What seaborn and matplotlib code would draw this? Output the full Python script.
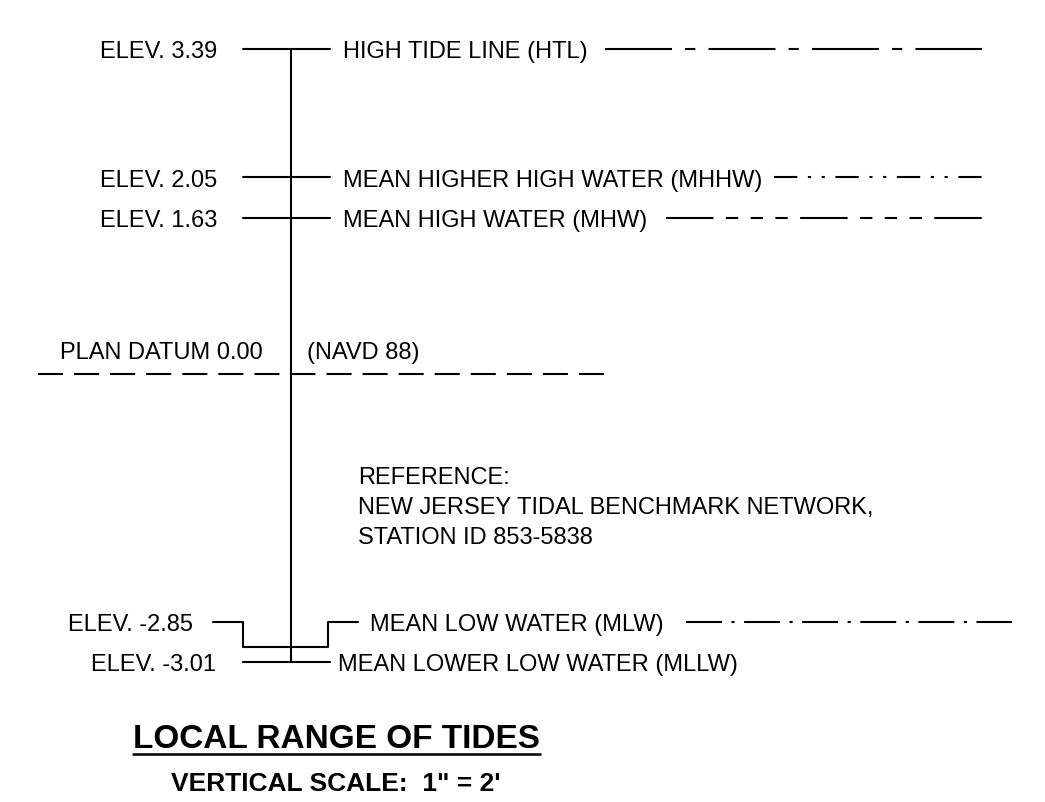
import matplotlib
matplotlib.use("Agg")
import matplotlib.pyplot as plt
import seaborn as sns
import pandas as pd
from matplotlib import transforms

sns.set_theme(style="white")
plt.rcParams["font.family"] = ["Liberation Sans", "DejaVu Sans"]
plt.rcParams["text.color"] = "black"
plt.rcParams["lines.scale_dashes"] = False

# ---------------- data ----------------
tide_names = ["HIGH TIDE LINE (HTL)", "MEAN HIGHER HIGH WATER (MHHW)",
              "MEAN HIGH WATER (MHW)", "MEAN LOW WATER (MLW)",
              "MEAN LOWER LOW WATER (MLLW)"]
tide_elev = [3.39, 2.05, 1.63, -2.85, -3.01]
elev_labels = ["ELEV. 3.39", "ELEV. 2.05", "ELEV. 1.63", "ELEV. -2.85", "ELEV. -3.01"]
datum_elev = 0.00
datum_label = "PLAN DATUM 0.00"
datum_name = "(NAVD 88)"
reference_lines = ["REFERENCE:", "NEW JERSEY TIDAL BENCHMARK NETWORK,", "STATION ID 853-5838"]
title = "LOCAL RANGE OF TIDES"
subtitle = "VERTICAL SCALE:  1\" = 2'"

# ---------------- layout ----------------
W, H, DPI = 1045, 803, 100
fig = plt.figure(figsize=(W / DPI, H / DPI), dpi=DPI)
ax = fig.add_axes([0, 0, 1, 1])
PXFT = 95.78
top_e = 3.39 + 50 / PXFT
ax.set_xlim(0, W)
ax.set_ylim(top_e - H / PXFT, top_e)
ax.axis("off")

LW = 1.5
FS = 17
CAP = 0.716 * FS / 72.0  # inches
vc = ax.transData + transforms.ScaledTranslation(0, -CAP / 2, fig.dpi_scale_trans)


def seg(xs, ys, **kw):
    df = pd.DataFrame({"x": xs, "y": ys})
    sns.lineplot(data=df, x="x", y="y", sort=False, estimator=None, ax=ax,
                 color="black", lw=kw.pop("lw", LW), **kw)


def fitted_dashes(x0, x1, pattern_px):
    """scale a dash pattern (px) so that it starts and ends with its first dash"""
    L = x1 - x0
    period = sum(pattern_px)
    n = max(1, round((L - pattern_px[0]) / period))
    s = L / (n * period + pattern_px[0])
    return (0, tuple(v * s * 0.72 for v in pattern_px))


def pattern_line(x0, x1, y, pattern_px):
    ax.plot([x0, x1], [y, y], color="black", lw=LW,
            linestyle=fitted_dashes(x0, x1, pattern_px),
            dash_capstyle="butt", solid_capstyle="butt")


patterns = [
    [66, 13, 10, 13],
    [22, 10, 3, 10, 3, 10],
    [46, 12, 12, 12, 12, 12, 12, 12],
    [34, 9, 3, 9],
    None,
]

vx = 290.7
# main vertical staff
seg([vx, vx], [tide_elev[0], tide_elev[-1]], orient="y")

renderer = fig.canvas.get_renderer()
mlw_lab = tide_elev[3] + 25 / PXFT
label_y = [tide_elev[0], tide_elev[1], tide_elev[2], mlw_lab, tide_elev[4]]
name_x = [343, 343, 343, 370, 338]
elev_x = [217, 217, 217, 193, 216]
pat_gap = [17, 12, 19, 22, None]
pat_end = [982, 982, 982, 1012, None]

for i in range(5):
    e = tide_elev[i]
    ly = label_y[i]
    ax.text(elev_x[i], ly, elev_labels[i], ha="right", va="baseline",
            fontsize=FS, transform=vc, color="black")
    t = ax.text(name_x[i], ly, tide_names[i], ha="left", va="baseline",
                fontsize=FS, transform=vc, color="black")
    if i == 3:
        seg([213, 243, 243, 328, 328, 358], [ly, ly, e, e, ly, ly])
    else:
        seg([243, 330], [e, e])
    if patterns[i] is not None:
        bb = t.get_window_extent(renderer)
        pattern_line(bb.x1 + pat_gap[i], pat_end[i], ly, patterns[i])

# datum
pattern_line(38, 604, datum_elev, [25, 11])
fig.text(263 / W, 1 - 359 / H, datum_label, ha="right", va="baseline", fontsize=FS)
fig.text(307 / W, 1 - 359 / H, datum_name, ha="left", va="baseline", fontsize=FS)

# reference note
for k, line in enumerate(reference_lines):
    fig.text(358 / W, 1 - (484 + 30 * k) / H, line, ha="left", va="baseline", fontsize=FS)

# title block
tt = fig.text(336 / W, 1 - 748 / H, title, ha="center", va="baseline",
              fontsize=24, fontweight="bold")
bb = tt.get_window_extent(renderer)
ax.plot([bb.x0 - 1, bb.x1 + 2], [top_e - 755 / PXFT] * 2, color="black", lw=1.8,
        solid_capstyle="butt")
fig.text(336 / W, 1 - 791 / H, subtitle, ha="center", va="baseline",
         fontsize=19, fontweight="bold")

fig.savefig("out.png", dpi=DPI, facecolor="white")
